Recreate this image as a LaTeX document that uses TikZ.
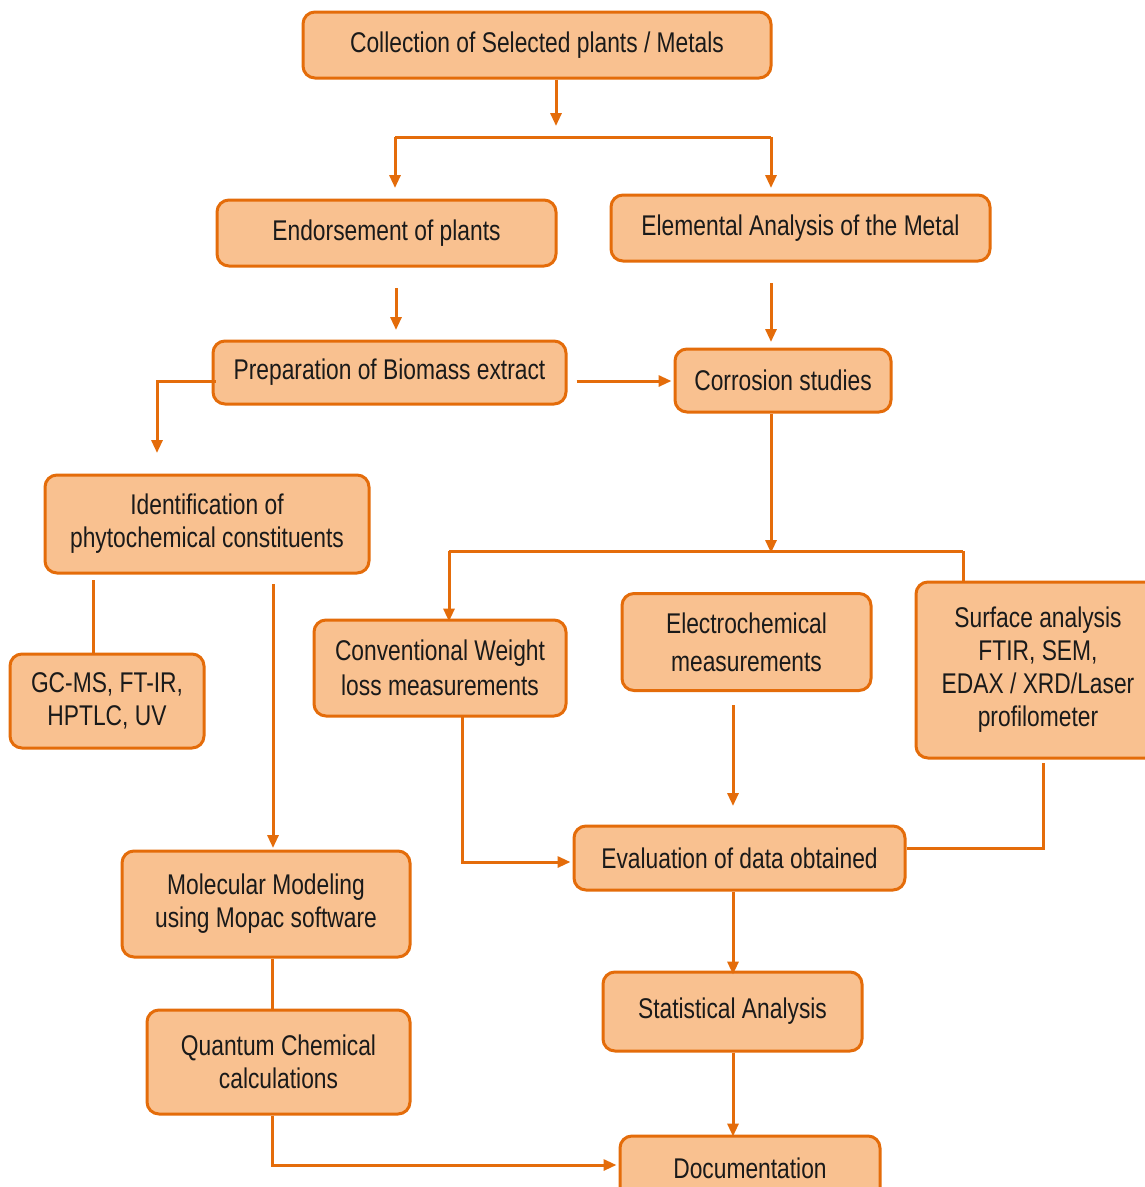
\documentclass[tikz,border=0pt]{standalone}
\usepackage{fontspec}
\setmainfont{Liberation Sans}[FakeStretch=0.8]
\usetikzlibrary{arrows.meta}
\definecolor{boxfill}{HTML}{F9C190}
\definecolor{boxline}{HTML}{E46C0A}
\definecolor{txt}{HTML}{1A1A1A}
\begin{document}
\begin{tikzpicture}[x=1pt,y=-1pt,
  box/.style={draw=boxline,fill=boxfill,line width=3pt,rounded corners=12pt,
    inner sep=0pt,align=center,text=txt,
    font=\fontsize{28.5}{33}\selectfont},
  ln/.style={draw=boxline,line width=3pt},
  arr/.style={ln,-{Triangle[length=13pt,width=11pt]}}]
\clip (0,0) rectangle (1145,1187);
\fill[white] (0,0) rectangle (1145,1187);
% nodes
\node[box,minimum width=468pt,minimum height=66pt] (coll) at (537,45) {Collection of Selected plants / Metals};
\node[box,minimum width=339pt,minimum height=66pt] (endo) at (386.5,233) {Endorsement of plants};
\node[box,minimum width=379pt,minimum height=66pt] (elem) at (800.5,228) {Elemental Analysis of the Metal};
\node[box,minimum width=353pt,minimum height=63pt] (prep) at (389.5,372.5) {Preparation of Biomass extract};
\node[box,minimum width=216pt,minimum height=63pt] (corr) at (783,380.5) {Corrosion studies};
\node[box,minimum width=324pt,minimum height=98pt] (iden) at (207,524) {Identification of\\phytochemical constituents};
\node[box,minimum width=194pt,minimum height=94pt] (gcms) at (107,701) {GC-MS, FT-IR,\\HPTLC, UV};
\node[box,minimum width=252pt,minimum height=96pt,font=\fontsize{28.5}{35}\selectfont] (conv) at (440,668) {Conventional Weight\\loss measurements};
\node[box,minimum width=249pt,minimum height=97pt,font=\fontsize{28.5}{38}\selectfont] (elec) at (746.5,642) {Electrochemical\\measurements};
\node[box,minimum width=244pt,minimum height=176pt] (surf) at (1038,670) {Surface analysis\\FTIR, SEM,\\EDAX / XRD/Laser\\profilometer};
\node[box,minimum width=331pt,minimum height=64pt] (eval) at (739.5,858) {Evaluation of data obtained};
\node[box,minimum width=288pt,minimum height=106pt] (mole) at (266,904) {Molecular Modeling\\using Mopac software};
\node[box,minimum width=263pt,minimum height=104pt] (quan) at (278.5,1062) {Quantum Chemical\\calculations};
\node[box,minimum width=259pt,minimum height=79pt] (stat) at (732.5,1011.5) {\raisebox{7pt}{Statistical Analysis}};
\node[box,minimum width=260pt,minimum height=64pt] (docu) at (750,1168) {Documentation};
% junction coordinates
\coordinate (c1) at (556,126);
\coordinate (jl) at (395,137);
\coordinate (jr) at (771,137);
\coordinate (e1) at (396,288);
\coordinate (e2) at (396,330);
\coordinate (m1) at (771,283);
\coordinate (m2) at (771,342);
\coordinate (p1) at (157,381);
\coordinate (p2) at (157,453);
\coordinate (k1) at (771,553);
\coordinate (kl) at (449,551);
\coordinate (kr) at (963,551);
\coordinate (i1) at (93,580);
\coordinate (i2) at (273,584);
\coordinate (i3) at (273,848);
\coordinate (v1) at (733,705);
\coordinate (v2) at (733,806);
\coordinate (w1) at (462,716);
\coordinate (w2) at (462,862);
\coordinate (s1) at (1043,763);
\coordinate (s2) at (1043,848);
\coordinate (q1) at (272,1165);
% connectors
\draw[arr] (coll.south -| c1) -- (c1);
\draw[ln] (jl) -- (jr);
\draw[arr] (jl) -- (jl |- 0,188);
\draw[arr] (jr) -- (jr |- 0,188);
\draw[arr] (e1) -- (e2);
\draw[arr] (m1) -- (m2);
\draw[arr] ([xshift=9pt]prep.east |- 0,381) -- ([xshift=-2pt]corr.west |- 0,381);
\draw[arr] ([xshift=4pt]prep.west |- p1) -- (p1) -- (p2);
\draw[arr] (corr.south -| k1) -- (k1);
\draw[ln] (kl) -- (kr);
\draw[arr] (kl) -- ([yshift=-3pt]kl |- conv.north);
\draw[ln] (kr) -- (kr |- surf.north);
\draw[ln] (i1) -- (i1 |- gcms.north);
\draw[arr] (i2) -- (i3);
\draw[arr] (v1) -- (v2);
\draw[arr] (w1) -- (w2) -- ([xshift=-2pt]eval.west |- w2);
\draw[ln] (s1) -- (s2) -- (eval.east |- s2);
\draw[arr] (eval.south -| v1) -- ([yshift=-4pt]v1 |- stat.north);
\draw[ln] (mole.south -| q1) -- (quan.north -| q1);
\draw[arr] (quan.south -| q1) -- (q1) -- ([xshift=-2pt]docu.west |- q1);
\draw[arr] (stat.south -| v1) -- ([yshift=-2pt]v1 |- docu.north);
\end{tikzpicture}
\end{document}
